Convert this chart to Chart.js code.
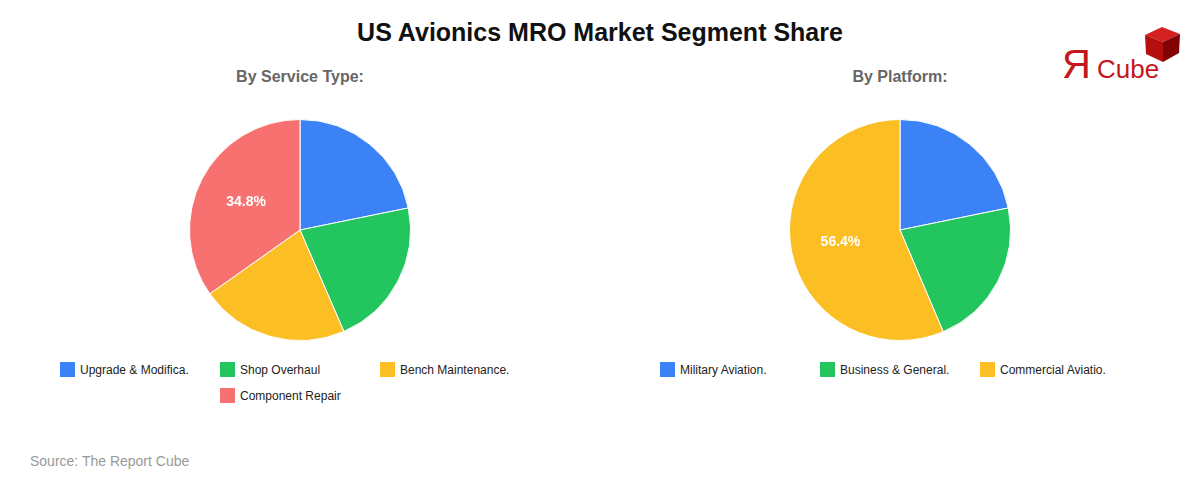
<!DOCTYPE html>
<html>
<head>
<meta charset="utf-8">
<script src="https://cdn.jsdelivr.net/npm/chart.js@4.4.0/dist/chart.umd.min.js"></script>
<style>
    body { margin: 0; background: #fff; font-family: "Liberation Sans", Arial, sans-serif; }
    #page { position: relative; width: 1200px; height: 480px; overflow: hidden; }
    .title { position: absolute; left: 0; top: 18px; width: 1200px; text-align: center; font-size: 25px; font-weight: bold; color: #111; }
    .sub { position: absolute; top: 68px; width: 600px; text-align: center; font-size: 16px; font-weight: bold; color: #666; }
    .pie { position: absolute; top: 119px; width: 222px; height: 222px; }
    .legend { position: absolute; top: 362px; width: 480px; display: flex; flex-wrap: wrap; justify-content: center; }
    .legend-item { width: 160px; height: 26px; font-size: 12px; color: #222; display: flex; align-items: flex-start; }
    .legend-item span.box { width: 15px; height: 15px; margin-right: 5px; flex: none; }
    .legend-item span.txt { line-height: 16px; }
    .source { position: absolute; left: 30px; top: 453px; font-size: 14px; color: #999; }
    .logo { position: absolute; left: 1062px; top: 26px; width: 125px; height: 60px; }
</style>
</head>
<body>
<div id="page">
    <div class="title">US Avionics MRO Market Segment Share</div>
    <div class="sub" style="left:0">By Service Type:</div>
    <div class="sub" style="left:600px">By Platform:</div>
    <div class="pie" style="left:189px"><canvas id="pie1"></canvas></div>
    <div class="pie" style="left:789px"><canvas id="pie2"></canvas></div>
    <div class="legend" id="legend1" style="left:60px"></div>
    <div class="legend" id="legend2" style="left:660px"></div>
    <div class="source">Source: The Report Cube</div>
    <svg class="logo" viewBox="0 0 125 60">
        <text x="0" y="52" font-family="Liberation Sans, Arial" font-size="40" fill="#c4161c">Я</text>
        <text x="35" y="52" font-family="Liberation Sans, Arial" font-size="26" fill="#c4161c">Cube</text>
        <polygon points="100,1 118,8 101,16 83,9" fill="#d42020"/>
        <polygon points="83,9 101,16 101,36 84,28" fill="#b50e0e"/>
        <polygon points="101,16 118,8 117,27 101,36" fill="#800202"/>
    </svg>
</div>
<script>
var colors = ['#3B82F6', '#22C55E', '#FBBF24', '#F87171'];

var serviceLabels = ['Upgrade & Modifica.', 'Shop Overhaul', 'Bench Maintenance.', 'Component Repair'];
var serviceValues = [21.8, 21.7, 21.7, 34.8];

var platformLabels = ['Military Aviation.', 'Business & General.', 'Commercial Aviatio.'];
var platformValues = [21.8, 21.8, 56.4];

// percent label on the big slice only
var sliceLabels = {
    id: 'sliceLabels',
    afterDatasetsDraw: function(chart) {
        var ctx = chart.ctx;
        var data = chart.data.datasets[0].data;
        var total = data.reduce(function(a, b) { return a + b; }, 0);
        chart.getDatasetMeta(0).data.forEach(function(arc, i) {
            var pct = data[i] / total * 100;
            if (pct < 30) return;
            var mid = (arc.startAngle + arc.endAngle) / 2;
            var r = arc.outerRadius * 0.55;
            ctx.save();
            ctx.fillStyle = '#fff';
            ctx.font = 'bold 14px "Liberation Sans", Arial, sans-serif';
            ctx.textAlign = 'center';
            ctx.textBaseline = 'middle';
            ctx.fillText(data[i].toFixed(1) + '%', arc.x + Math.cos(mid) * r, arc.y + Math.sin(mid) * r);
            ctx.restore();
        });
    }
};

var makePie = function(id, labels, values) {
    new Chart(document.getElementById(id), {
        type: 'pie',
        data: {
            labels: labels,
            datasets: [{
                data: values,
                backgroundColor: colors.slice(0, values.length),
                borderColor: '#fff',
                borderWidth: 1
            }]
        },
        options: {
            responsive: true,
            maintainAspectRatio: false,
            animation: false,
            layout: { padding: 0 },
            plugins: { legend: { display: false }, tooltip: { enabled: false } }
        },
        plugins: [sliceLabels]
    });
};

var makeLegend = function(id, labels) {
    var el = document.getElementById(id);
    labels.forEach(function(label, i) {
        var item = document.createElement('div');
        item.className = 'legend-item';
        var box = document.createElement('span');
        box.className = 'box';
        box.style.background = colors[i];
        var txt = document.createElement('span');
        txt.className = 'txt';
        txt.textContent = label;
        item.appendChild(box);
        item.appendChild(txt);
        el.appendChild(item);
    });
};

makePie('pie1', serviceLabels, serviceValues);
makePie('pie2', platformLabels, platformValues);
makeLegend('legend1', serviceLabels);
makeLegend('legend2', platformLabels);
</script>
</body>
</html>
